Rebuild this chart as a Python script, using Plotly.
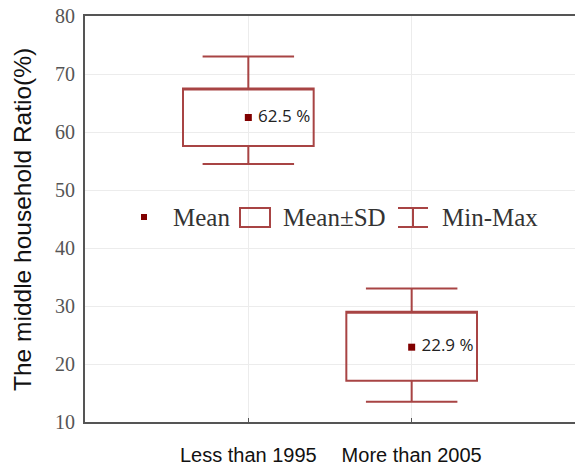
import plotly.graph_objects as go

categories = ["Less than 1995", "More than 2005"]
means = [62.5, 22.9]
sd_low = [57.6, 17.1]
sd_high = [67.5, 29.0]
mins = [54.5, 13.5]
maxs = [73.0, 33.0]
mean_labels = ["62.5 %", "22.9 %"]
y_ticks = [10, 20, 30, 40, 50, 60, 70, 80]

BOX = "#a84444"
MEAN = "#800000"
W, H = 575, 467
L, R, T, B = 85, 0, 16, 45
PW, PH = W - L - R, H - T - B

def px(x):
    return (x - L) / PW

def py(y):
    return (H - B - y) / PH

fig = go.Figure()

fig.add_trace(go.Box(
    x=categories,
    q1=sd_low, q3=sd_high, median=sd_high,
    lowerfence=mins, upperfence=maxs,
    width=0.8, whiskerwidth=0.7,
    line=dict(color=BOX, width=2),
    fillcolor="rgba(255,255,255,0)",
    boxpoints=False, hoverinfo="skip", showlegend=False,
))

fig.add_trace(go.Scatter(
    x=categories, y=means, mode="markers+text",
    marker=dict(symbol="square", size=7, color=MEAN),
    text=[" " + t for t in mean_labels], textposition="middle right",
    textfont=dict(family="Open Sans, sans-serif", size=17, color="#222"),
    showlegend=False, cliponaxis=False, hoverinfo="skip",
))

shapes = []
annotations = []
# legend: mean marker
shapes.append(dict(type="rect", xref="paper", yref="paper",
                   x0=px(141), x1=px(147), y0=py(220), y1=py(214),
                   fillcolor=MEAN, line=dict(width=0)))
# legend: box symbol
shapes.append(dict(type="rect", xref="paper", yref="paper",
                   x0=px(240), x1=px(270), y0=py(227), y1=py(208),
                   fillcolor="rgba(0,0,0,0)", line=dict(color=BOX, width=2)))
# legend: whisker symbol
for y0, y1, x0, x1 in [(208, 208, 398, 428), (227, 227, 398, 428), (208, 227, 413, 413)]:
    shapes.append(dict(type="line", xref="paper", yref="paper",
                       x0=px(x0), x1=px(x1), y0=py(y0), y1=py(y1),
                       line=dict(color=BOX, width=2)))
legend_font = dict(family="Liberation Serif, serif", size=25, color="#333")
for text, x in [("Mean", 171), ("Mean±SD", 281), ("Min-Max", 440)]:
    annotations.append(dict(text=text, xref="paper", yref="paper",
                            x=px(x), y=py(217), xanchor="left", yanchor="middle",
                            showarrow=False, font=legend_font))
# y axis title placed at fixed pixel position
annotations.append(dict(text="The middle household Ratio(%)", xref="paper", yref="paper",
                        x=px(22), y=py(220), xanchor="center", yanchor="middle",
                        textangle=-90, showarrow=False,
                        font=dict(family="Liberation Sans, sans-serif", size=24.5, color="#111")))

fig.update_layout(
    width=W, height=H,
    margin=dict(l=L, r=R, t=T, b=B, autoexpand=False),
    paper_bgcolor="white", plot_bgcolor="white",
    shapes=shapes, annotations=annotations,
    xaxis=dict(
        type="category", range=[-1, 2], automargin=False,
        tickvals=categories, ticktext=categories,
        tickfont=dict(family="Liberation Sans, sans-serif", size=20, color="#111"),
        showline=True, linecolor="#555", linewidth=2, mirror=True,
        showgrid=True, gridcolor="#ececec", gridwidth=1,
        ticks="inside", ticklen=4, tickcolor="#555",
        zeroline=False, ticklabelstandoff=14,
    ),
    yaxis=dict(
        range=[10, 80], tickvals=y_ticks, automargin=False,
        tickfont=dict(family="Liberation Serif, serif", size=20, color="#555"),
        showline=True, linecolor="#555", linewidth=2, mirror=False,
        showgrid=True, gridcolor="#ececec", gridwidth=1,
        zeroline=False, ticks="", ticklabelstandoff=4,
    ),
)

fig.write_html(
    "out.html",
    config={"displayModeBar": False},
    post_script="document.body.style.margin='0';document.body.style.overflow='hidden';",
)
